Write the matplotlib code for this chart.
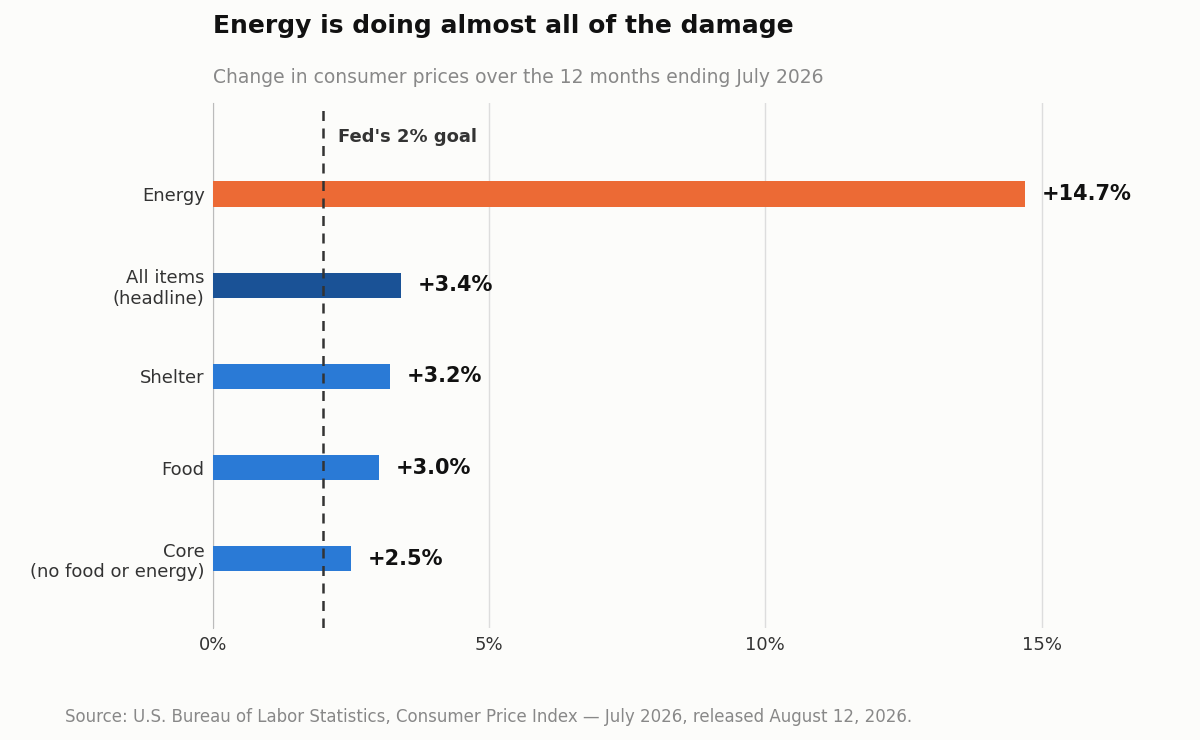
import matplotlib
matplotlib.use("Agg")
import matplotlib.pyplot as plt

categories = ["Energy", "All items\n(headline)", "Shelter", "Food", "Core\n(no food or energy)"]
values = [14.7, 3.4, 3.2, 3.0, 2.5]
colors = ["#EC6A35", "#1A5296", "#2A7AD6", "#2A7AD6", "#2A7AD6"]
xticks = [0, 5, 10, 15]
xtick_labels = ["0%", "5%", "10%", "15%"]
goal = 2.0

bg = "#fcfcfa"
fig = plt.figure(figsize=(12, 7.4), dpi=100, facecolor=bg)
ax = fig.add_axes([0.1775, 0.1514, 0.8055, 0.7094], facecolor=bg)

ypos = list(range(len(categories)))
ax.barh(ypos, values, height=0.28, color=colors, zorder=3)
for y, v in zip(ypos, values):
    ax.text(v + 0.3, y, f"+{v:.1f}%", va="center", ha="left",
            fontsize=15, fontweight="bold", color="#111")

ax.axvline(goal, color="#333", lw=1.8, ls=(0, (4, 3)), zorder=4)
ax.text(goal + 0.26, -0.63, "Fed's 2% goal", fontsize=13, fontweight="bold",
        color="#333", va="center", ha="left")

ax.set_xlim(0, 17.5)
ax.set_ylim(4.76, -1)
ax.set_yticks(ypos)
ax.set_yticklabels(categories, fontsize=13, color="#333")
ax.set_xticks(xticks)
ax.set_xticklabels(xtick_labels, fontsize=13, color="#333")
ax.tick_params(length=0, pad=6)
ax.xaxis.grid(True, color="#dddddd", lw=1, zorder=0)
for s in ["top", "right", "bottom"]:
    ax.spines[s].set_visible(False)
ax.spines["left"].set_color("#bbbbbb")

fig.text(0.1775, 0.965, "Energy is doing almost all of the damage",
         fontsize=18, fontweight="bold", va="center", ha="left", color="#111")
fig.text(0.1775, 0.895, "Change in consumer prices over the 12 months ending July 2026",
         fontsize=13.5, va="center", ha="left", color="#888")
fig.text(0.054, 0.031,
         "Source: U.S. Bureau of Labor Statistics, Consumer Price Index \u2014 July 2026, released August 12, 2026.",
         fontsize=12, va="center", ha="left", color="#888")

fig.savefig("out.png", dpi=100, facecolor=bg)
